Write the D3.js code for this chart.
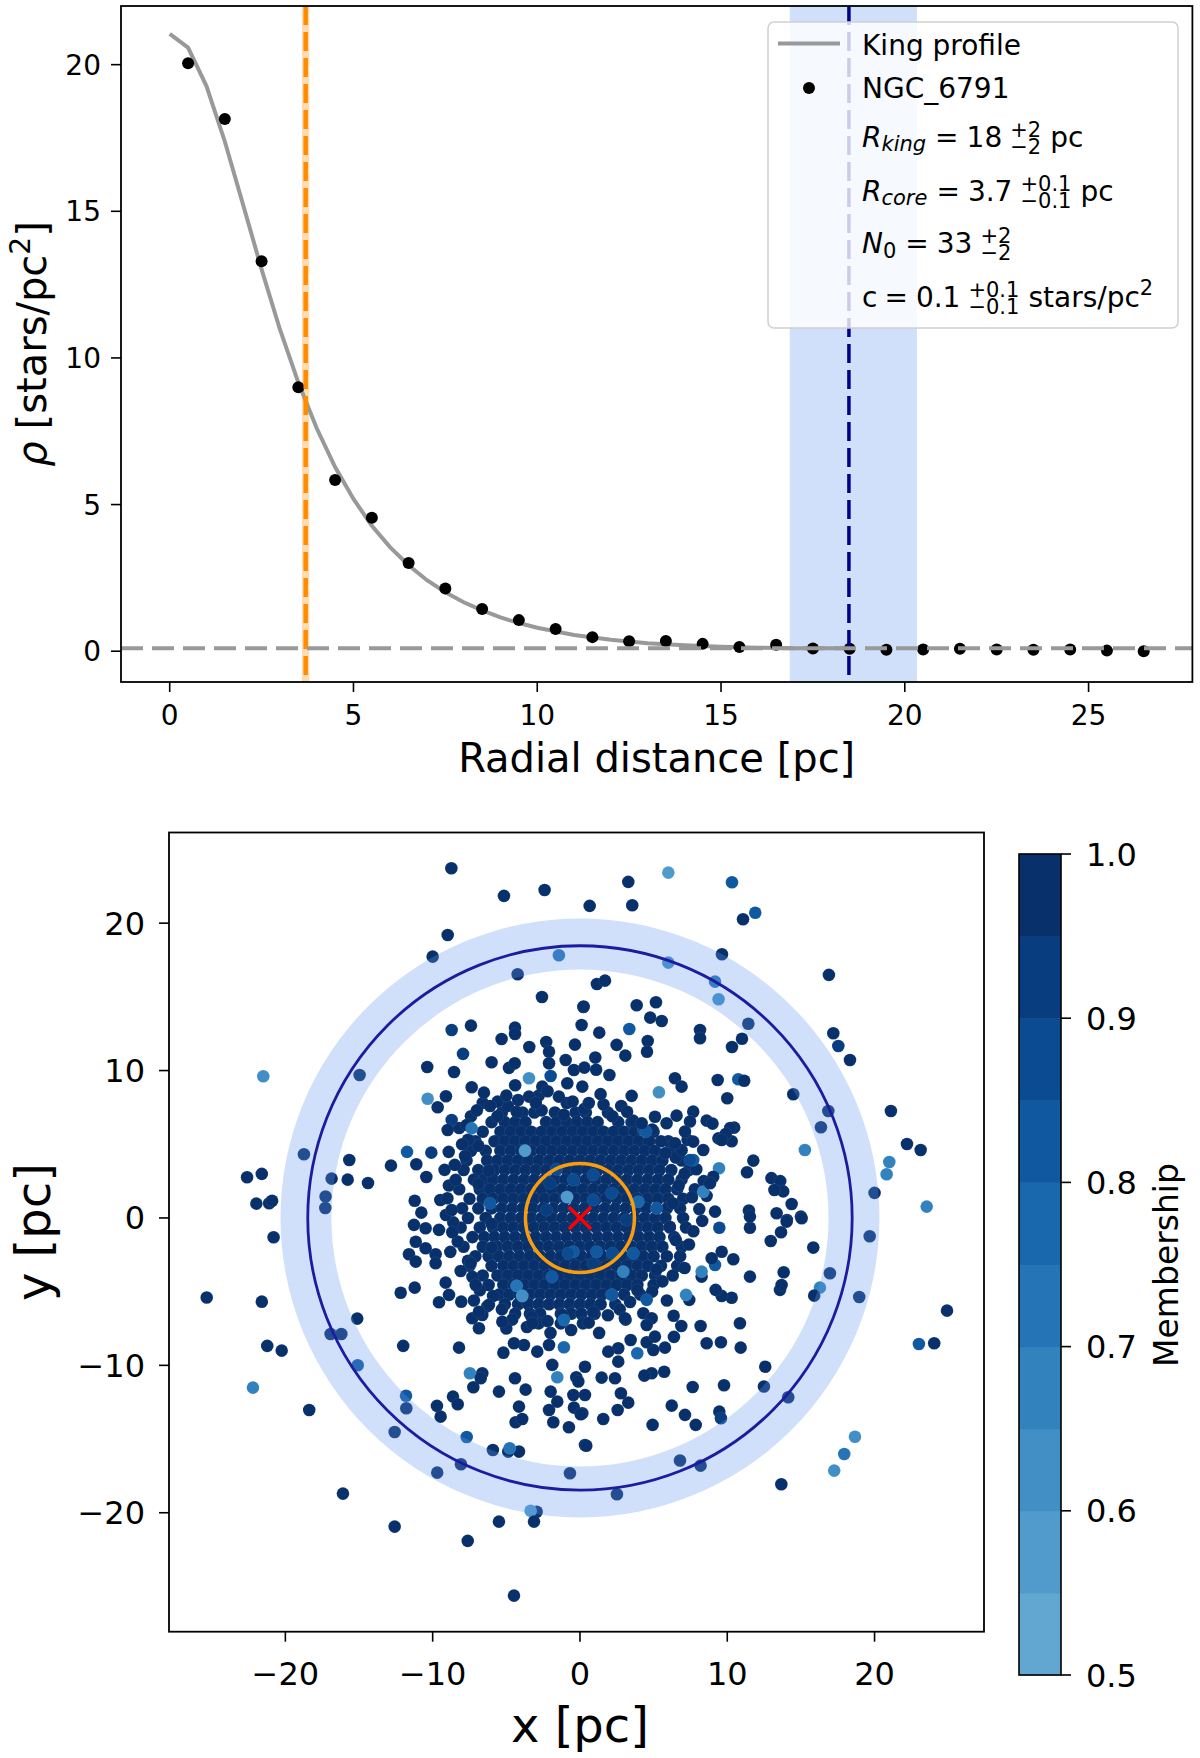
<!DOCTYPE html>
<html>
<head>
<meta charset="utf-8">
<script src="https://cdn.jsdelivr.net/npm/d3@7/dist/d3.min.js"></script>
<style>
html,body{margin:0;padding:0;background:#fff;}
svg text{font-family:"DejaVu Sans","Liberation Sans",sans-serif;fill:#000;}
</style>
</head>
<body>
<svg id="chart" width="1200" height="1758" viewBox="0 0 1200 1758"></svg>
<script>
// ================= DATA =================
// Radial density profile (top panel)
const radialBins = [0.5,1.5,2.5,3.5,4.5,5.5,6.5,7.5,8.5,9.5,10.5,11.5,12.5,13.5,14.5,15.5,16.5,17.5,18.5,19.5,20.5,21.5,22.5,23.5,24.5,25.5,26.5];
const densityValues = [20.05,18.15,13.3,9.0,5.84,4.55,3.01,2.14,1.44,1.06,0.76,0.48,0.34,0.35,0.25,0.14,0.22,0.09,0.08,0.05,0.06,0.08,0.06,0.05,0.06,0.02,0.0];
// King profile curve
const kingRadius  = [0,0.5,1,1.5,2,2.5,3,3.5,4,4.5,5,5.5,6,6.5,7,7.5,8,8.5,9,9.5,10,11,12,13,14,15,16,17,18,18.5];
const kingDensity = [21.05,20.58,19.27,17.38,15.21,13.02,10.97,9.16,7.60,6.28,5.19,4.28,3.54,2.93,2.42,2.01,1.67,1.39,1.15,0.96,0.80,0.55,0.39,0.27,0.20,0.15,0.12,0.10,0.10,0.10];
const rCore = 3.7, rCoreBand = [3.6, 3.8];
const rKing = 18.48, rKingBand = [16.87, 20.33];
const background = 0.1;
const topXTicks = [0,5,10,15,20,25];
const topYTicks = [0,5,10,15,20];
const bottomXTicks = [-20,-10,0,10,20];
const bottomYTicks = [-20,-10,0,10,20];
const colorbarTicks = [0.5,0.6,0.7,0.8,0.9,1.0];
const membershipLevels = [0.5,0.55,0.6,0.65,0.7,0.75,0.8,0.85,0.9,0.95,1.0];
const clusterName = "NGC_6791";

// Star positions (bottom panel): [x, y, membership]
const starsOuter = [
[-8.73,23.72,.98],[-5.16,21.85,.98],[-2.40,22.25,.98],[0.66,21.17,.98],[-8.98,19.2,.98],[-10.0,17.73,.98],[-1.43,17.82,.72],[-4.23,16.53,.98],[-2.58,14.99,.98],[0.23,14.31,.98],[-7.40,13.05,.98],[-8.71,12.75,.92],[-4.41,12.91,.98],[-4.41,12.48,.98],[-5.32,12.14,.98],[0.11,13.09,.98],[-2.29,11.94,.98],[-3.44,11.6,.98],[-0.34,11.76,.98],[-7.94,11.13,.92],[-10.37,10.24,.98],[-8.55,9.9,.98],[-6.0,10.56,.98],[-4.82,10.18,.98],[-4.43,10.49,.98],[-21.5,9.61,.6],[-14.96,9.70,.98],[-3.46,9.48,.6],[-1.99,9.63,.85],[-10.34,8.09,.6],[-9.10,8.26,.98],[-9.66,7.51,.98],[-7.35,8.87,.98],[-6.52,8.5,.98],[-5.59,7.89,.98],[-8.71,6.65,.92],[-8.98,5.97,.98],[-7.69,6.31,.98],[-7.35,6.08,.7],[-18.74,4.32,.98],[-15.66,3.93,.98],[-16.86,2.67,.98],[-15.77,2.6,.98],[-14.39,2.37,.98],[-22.6,2.76,.98],[-21.6,2.99,.98],[-21.97,0.97,.98],[-21.1,1.0,.98],[-20.9,1.17,.98],[-17.27,1.45,.98],[-17.29,0.68,.98],[-12.83,3.55,.98],[-11.74,4.48,.8],[-11.11,3.64,.98],[-10.09,4.43,.92],[-8.91,4.48,.98],[-10.43,2.78,.98],[-9.19,3.26,.98],[-11.22,1.17,.98],[-10.77,0.36,.98],[-9.48,1.22,.98],[-9.0,1.34,.98],[-8.71,0.54,.98],[-8.44,2.58,.98],
[-2.1,11.28,.98],[-2.1,10.49,.98],[-0.97,10.72,.98],[-0.86,9.14,.98],[0.16,8.91,.98],[-0.41,10.04,.98],[-2.56,8.91,.98],[-1.43,8.23,.98],[-3.46,8.23,.98],[-5.0,8.3,.98],[-4.2,8.0,.98],[-3.0,7.8,.98],[-2.2,8.6,.98],[-0.5,7.9,.98],[0.6,7.8,.98],[1.4,8.4,.98],[-4.4,9.0,.98],[-6.1,7.6,.98],
[6.0,23.43,.55],[3.28,22.8,.98],[10.32,22.77,.82],[3.55,21.21,.98],[11.9,20.71,.82],[11.07,20.26,.98],[9.64,17.89,.98],[6.0,17.32,.6],[9.17,16.03,.72],[9.41,14.84,.6],[1.15,15.87,.98],[1.7,16.1,.98],[16.9,16.49,.98],[0.25,14.34,.98],[3.85,14.43,.98],[5.16,14.63,.98],[4.77,13.59,.98],[5.55,13.36,.98],[3.35,12.82,.8],[1.31,12.57,.98],[8.15,12.75,.98],[8.15,12.19,.98],[11.43,13.18,.98],[11.0,12.16,.98],[10.32,11.6,.98],[4.6,12.0,.98],[4.55,11.28,.98],[2.49,11.74,.98],[3.08,11.01,.98],[17.2,12.53,.98],[17.54,11.67,.92],[18.33,10.72,.98],[1.04,10.88,.98],[0.3,10.2,.98],[1.1,10.05,.98],[2.0,9.7,.98],[6.45,9.48,.98],[6.9,8.91,.98],[9.35,9.36,.98],[10.75,9.41,.8],[11.15,9.31,.98],[5.36,8.53,.6],[10.0,8.12,.98],[14.48,8.39,.98],[3.51,8.28,.98],[7.69,7.21,.98],[6.56,6.94,.98],[16.86,7.26,.98],[21.11,7.26,.98],[16.36,6.15,.98],[15.27,4.61,.65],[22.2,5.02,.98],[23.13,4.61,.98],[21.0,3.8,.65],[20.82,2.96,.65],[20.0,1.7,.98],[23.54,0.77,.65],[11.77,3.89,.98],[11.34,3.1,.98],[13.0,2.7,.98],[13.6,2.5,.98],[13.8,1.8,.98],[13.2,1.9,.98],[14.37,0.95,.98],[15.0,0.09,.98],[14.05,-0.14,.98],[11.47,0.5,.98],[13.35,0.32,.98],[10.47,6.13,.98],[9.44,3.37,.65],[8.37,1.78,.65],[9.05,2.8,.98],[8.83,2.35,.98],[9.17,0.43,.98],[4.48,5.86,.8],[7.47,3.93,.85],[10.3,5.2,.98],[10.2,6.1,.98],[9.4,5.4,.98],[9.9,5.7,.98],[8.6,6.6,.98],[9.0,6.4,.98],
[5.88,6.42,.98],[7.47,6.54,.98],[7.13,5.86,.98],[6.45,5.07,.98],[7.69,5.18,.98],[8.37,4.61,.98],[9.62,5.29,.98],[5.09,6.87,.98],[4.19,6.42,.98],
[-20.8,-1.31,.98],[-25.34,-5.4,.98],[-21.6,-5.68,.98],[-15.12,-6.83,.98],[-16.93,-7.87,.98],[-16.2,-7.87,.98],[-21.23,-8.68,.98],[-20.25,-9.0,.98],[-15.09,-9.99,.8],[-22.2,-11.51,.65],[-18.38,-13.03,.98],[-12.0,-8.68,.98],[-8.21,-8.8,.98],[-11.81,-12.06,.8],[-11.79,-12.91,.98],[-12.58,-14.52,.98],[-9.71,-12.75,.98],[-9.46,-13.48,.98],[-8.62,-12.12,.98],[-8.3,-12.64,.98],[-7.69,-14.86,.8],[-9.69,-17.28,.98],[-8.08,-16.71,.98],[-5.91,-15.74,.98],[-4.87,-15.85,.98],[-4.14,-15.85,.98],[-4.77,-15.62,.7],[-0.68,-17.32,.98],[-2.94,-19.93,.98],[-3.35,-19.86,.55],[-3.12,-20.6,.98],[-5.5,-20.6,.98],[-7.62,-21.91,.98],[-12.58,-20.94,.98],[-16.09,-18.7,.98],[-4.48,-25.62,.98],[-7.47,-10.54,.65],[-6.63,-10.54,.98],[-6.74,-10.88,.98],[-7.24,-11.49,.98],[-5.5,-11.78,.98],[-4.41,-10.88,.98],[-3.69,-11.65,.98],[-4.14,-12.8,.98],[-4.37,-13.86,.98],[-3.92,-13.64,.98],[-1.54,-10.81,.65],[-1.99,-11.78,.98],[-2.1,-13.03,.98],[-1.54,-12.46,.98],[-1.81,-13.86,.98],[-0.75,-14.2,.98],[-0.45,-12.01,.98],[-0.25,-10.81,.98],[-0.41,-12.87,.98],[0.16,-13.25,.98],[0.34,-15.4,.98],[-5.2,-9.14,.98],[-2.9,-9.07,.98],[-3.8,-8.62,.98],[-4.48,-8.5,.98],[-2.1,-8.62,.98],[-1.09,-8.77,.75],[-1.09,-6.92,.75],[-1.88,-9.97,.98],[-6.86,-7.48,.98],[-7.31,-6.8,.98],[-6.63,-6.58,.98],[-5.27,-7.04,.98],[-3.28,-6.72,.98],[-3.24,-7.14,.98],[-12.17,-5.07,.98],[-11.22,-4.73,.98],[-9.12,-4.39,.98],[-9.57,-5.72,.98],[-8.89,-5.22,.98],[-8.06,-5.68,.98],[-4.3,-4.61,.7],[-3.92,-5.29,.6],[-11.27,-0.47,.98],[-10.48,-0.7,.98],[-9.57,-0.81,.98],[-8.67,-0.97,.98],[-11.61,-2.46,.98],[-11.15,-2.96,.98],[-9.8,-2.46,.98],[-9.8,-3.07,.98],[-11.15,-1.61,.98],[-10.48,-2.06,.98],[-7.42,-3.07,.98],[-7.08,-4.55,.98],[-6.86,-6.36,.98],[-6.18,-5.9,.98],
[19.67,-1.24,.98],[15.84,-2.01,.98],[16.97,-3.75,.98],[16.29,-4.73,.65],[15.9,-5.27,.98],[18.96,-5.36,.98],[24.92,-6.29,.98],[23.01,-8.55,.8],[24.05,-8.5,.98],[12.58,-10.09,.98],[12.49,-11.44,.98],[14.14,-12.16,.98],[18.67,-14.84,.6],[17.94,-16.01,.7],[17.26,-17.14,.6],[13.67,-18.07,.98],[6.79,-16.46,.98],[8.19,-16.8,.98],[2.51,-18.75,.98],[0.43,-15.45,.98],[4.93,-14.04,.98],[1.58,-13.64,.98],[7.86,-14.04,.98],[7.13,-13.36,.98],[6.23,-12.73,.98],[9.46,-13.14,.98],[9.57,-13.59,.92],[7.65,-11.47,.98],[9.78,-11.35,.98],[2.56,-13.03,.98],[3.28,-12.53,.98],[2.78,-11.89,.98],[2.6,-9.75,.98],[2.38,-10.88,.98],[1.47,-10.83,.98],[0.05,-13.32,.98],[5.72,-10.43,.98],[4.87,-10.54,.98],[4.37,-10.7,.98],[3.89,-9.18,.78],[5.77,-8.8,.98],[4.98,-8.96,.98],[4.53,-8.43,.98],[8.6,-8.5,.98],[9.57,-8.43,.98],[10.91,-8.8,.98],[8.19,-7.33,.98],[6.88,-7.33,.98],[6.38,-8.07,.98],[10.86,-7.14,.98],[3.44,-8.28,.98],[6.36,-6.63,.98],[7.42,-5.56,.98],[7.2,-5.22,.65],[10.3,-5.41,.98],[9.62,-5.29,.98],[9.21,-4.88,.98],[8.26,-3.98,.98],[8.26,-3.64,.65],[11.54,-3.98,.98],[13.58,-4.88,.98],[13.69,-4.55,.98],[13.83,-3.68,.98],[10.41,-2.8,.98],[9.17,-3.19,.8],[8.94,-2.73,.98],[9.62,-2.29,.98],[9.46,-0.66,.85],[11.54,-0.66,.98],[11.54,0.09,.98],[12.95,-1.56,.98],[13.65,-0.97,.98],[14.03,-0.25,.98],[15.05,-0.02,.98],[5.09,-8.05,.98],[3.05,-6.8,.98],[4.3,-6.47,.98],[4.87,-6.8,.98],[4.53,-7.26,.98],[2.6,-8.84,.98],[1.92,-9.07,.98],[0.34,-10.09,.98],[-0.11,-11.1,.98],[0.34,-12.01,.98]
];

// Dense core: rows of star positions estimated from the saturated blob (membership ~0.98)
const coreRowY = [7.15,6.5,5.85,5.2,4.55,3.9,3.25,2.6,1.95,1.3,0.65,0.0,-0.65,-1.3,-1.95,-2.6,-3.25,-3.9,-4.55,-5.2,-5.85,-6.5,-7.15];
const coreRowX = [
[-5.3,-3.9,-3.1,-1.7,-0.3,0.4,1.9],
[-6.0,-5.1,-4.4,-3.7,-2.3,-1.6,-0.9,-0.2,0.5,1.2,2.6,3.5],
[-6.6,-5.4,-4.7,-4.0,-3.3,-2.6,-1.9,-1.2,-0.5,0.2,0.9,1.6,2.3,3.0,3.7,5.0],
[-7.1,-5.8,-5.1,-4.4,-3.7,-3.0,-2.3,-1.6,-0.9,-0.2,0.5,1.2,1.9,2.6,3.3,4.0,4.7,6.0],
[-7.4,-6.4,-5.4,-4.7,-4.0,-3.3,-2.6,-1.9,-1.2,-0.5,0.2,0.9,1.6,2.3,3.0,3.7,4.4,5.1,6.3],
[-7.7,-6.3,-5.6,-4.9,-4.2,-3.5,-2.8,-2.1,-1.4,-0.7,0.0,0.7,1.4,2.1,2.8,3.5,4.2,4.9,5.6,6.9],
[-7.9,-6.9,-5.8,-5.1,-4.4,-3.7,-3.0,-2.3,-1.6,-0.9,-0.2,0.5,1.2,1.9,2.6,3.3,4.0,4.7,5.4,6.2,7.4],
[-7.2,-6.5,-5.9,-5.2,-4.5,-3.8,-3.1,-2.4,-1.7,-1.0,-0.3,0.4,1.1,1.8,2.5,3.2,3.9,4.6,5.3,6.0,6.9],
[-8.2,-6.8,-6.1,-5.4,-4.7,-4.0,-3.3,-2.6,-1.9,-1.2,-0.5,0.2,0.9,1.6,2.3,3.0,3.7,4.4,5.1,5.8,6.6,7.8],
[-7.5,-6.6,-5.9,-5.2,-4.5,-3.8,-3.1,-2.4,-1.7,-1.0,-0.3,0.4,1.1,1.8,2.5,3.2,3.9,4.6,5.3,6.0,7.0],
[-8.0,-6.9,-6.0,-5.3,-4.6,-3.9,-3.2,-2.5,-1.8,-1.1,-0.4,0.3,1.0,1.7,2.4,3.1,3.8,4.5,5.2,5.9,6.8],
[-7.6,-6.4,-5.4,-4.7,-4.0,-3.3,-2.6,-1.9,-1.2,-0.5,0.2,0.9,1.6,2.3,3.0,3.7,4.4,5.1,5.8,7.0],
[-8.1,-6.8,-5.9,-5.2,-4.5,-3.8,-3.1,-2.4,-1.7,-1.0,-0.3,0.4,1.1,1.8,2.5,3.2,3.9,4.6,5.3,6.1,7.2],
[-7.3,-6.5,-5.8,-5.1,-4.4,-3.7,-3.0,-2.3,-1.6,-0.9,-0.2,0.5,1.2,1.9,2.6,3.3,4.0,4.7,5.4,6.4],
[-7.9,-6.6,-5.6,-4.9,-4.2,-3.5,-2.8,-2.1,-1.4,-0.7,0.0,0.7,1.4,2.1,2.8,3.5,4.2,4.9,5.6,6.9],
[-7.1,-6.2,-5.5,-4.8,-4.1,-3.4,-2.7,-2.0,-1.3,-0.6,0.1,0.8,1.5,2.2,2.9,3.6,4.3,5.0,5.9],
[-7.5,-6.0,-5.2,-4.5,-3.8,-3.1,-2.4,-1.7,-1.0,-0.3,0.4,1.1,1.8,2.5,3.2,3.9,4.6,5.5,6.6],
[-6.6,-5.6,-4.9,-4.2,-3.5,-2.8,-2.1,-1.4,-0.7,0.0,0.7,1.4,2.1,2.8,3.5,4.2,5.1],
[-6.2,-5.2,-4.5,-3.8,-3.1,-2.4,-1.7,-1.0,-0.3,0.4,1.1,1.8,2.5,3.2,3.9,5.0],
[-5.5,-4.8,-4.1,-3.4,-2.7,-2.0,-1.3,-0.6,0.1,0.8,1.5,2.2,3.0,4.1],
[-5.1,-4.2,-3.5,-2.8,-2.1,-1.4,-0.7,0.0,0.7,1.4,2.4],
[-4.4,-3.4,-2.7,-1.3,-0.6,0.1,1.0],
[-2.8,-1.3,0.2]
];
const coreMembership = 0.98;
// Irregular fringe of the dense core
const starsFringe = [
[-7.8,4.2],[-8.5,3.6],[-6.9,4.9],[-7.6,5.3],[-8.9,2.2],[-8.6,-0.3],[-9.1,0.2],[-8.3,-1.6],[-8.8,-2.3],[-7.6,-2.9],[-8.1,-3.6],[-7.3,-4.0],[-6.8,-4.9],[-5.9,-5.3],[-6.3,-6.0],[-5.3,-6.2],[-4.6,-6.9],[-3.6,-7.4],[-2.2,-7.0],[-2.0,-7.8],[-0.6,-7.6],[0.6,-7.1],[1.3,-7.8],[1.9,-6.6],[2.7,-6.2],[3.4,-5.7],[3.9,-4.9],[4.9,-5.0],[5.6,-4.3],[6.3,-3.9],[5.2,-3.5],[6.8,-2.6],[7.4,-1.8],[7.7,-0.9],[8.1,0.6],[7.6,1.4],[8.4,2.5],[7.1,3.0],[7.9,3.3],[6.5,4.1],[6.9,4.6],[5.8,4.4],[5.5,5.2],[4.9,6.0],[3.6,6.6],[2.8,7.6],[1.6,7.7],[-0.9,7.8],[-2.8,8.3],[-4.9,7.6],[-6.6,7.8],[-7.4,6.9],[-8.2,6.1],[-8.0,5.0],[-6.2,3.2],[-6.9,2.3],[-6.0,-0.4],[-6.0,-2.0],[6.1,-0.6],[6.3,1.0],[6.5,-1.5],[6.7,2.2],
[-7.0,7.3],[-5.6,6.9],[-4.3,7.2],[-2.6,7.3],[-1.1,7.0],[0.3,7.4],[2.2,6.9],[3.2,7.2],[-7.2,-5.6],[-5.0,-7.5],[-1.2,-6.6],[0.9,-6.4],[3.1,-6.9],[5.9,-5.6],[7.1,-3.4],[8.3,-0.2],[8.6,1.5],[7.3,5.3]
];
// Lighter / mid-tone stars visible inside the core
const starsCoreTinted = [
[-3.73,4.57,.55],[-0.88,1.42,.55],[2.94,-3.64,.65],[7.69,3.93,.8],[3.96,1.1,.75],[5.2,0.66,.8],[0.9,1.22,.85],[-0.45,-2.29,.8],[2.2,-2.4,.85],[4.3,5.97,.85],[-6.11,1.0,.8],[3.62,-2.4,.8],[1.13,-2.29,.8],[-1.9,-4.0,.8],[2.15,-5.22,.8],[4.53,-5.56,.8],
[-0.45,2.58,.88],[0.9,2.92,.88],[-2.04,2.35,.9],[-0.79,-2.4,.88],[2.15,1.68,.88],[3.17,-0.14,.9],[-2.26,0.54,.9],[-1.6,3.3,.88],[0.9,-3.1,.9]
];

// ================= DRAWING =================
const svg = d3.select('#chart');
const bandColors = d3.range(10).map(i => d3.interpolateBlues(0.53 + 0.47 * i / 9));
const memColor = m => bandColors[Math.max(0, Math.min(9, Math.floor((m - 0.5) / 0.05 + 1e-9)))];

function mathLine(g, x, y, parts, base) {
  let cx = x;
  for (const p of parts) {
    cx += p.gap || 0;
    const size = p.s || base;
    if (p.stack) {
      const a = g.append('text').attr('x', cx).attr('y', y - 10).style('font-size', size + 'px').text(p.stack[0]);
      const b = g.append('text').attr('x', cx).attr('y', y + 7).style('font-size', size + 'px').text(p.stack[1]);
      cx += Math.max(a.node().getComputedTextLength(), b.node().getComputedTextLength());
    } else {
      const t = g.append('text').attr('x', cx).attr('y', y + (p.dy || 0))
        .style('font-size', size + 'px').style('font-style', p.it ? 'italic' : 'normal').text(p.t);
      cx += t.node().getComputedTextLength();
    }
  }
  return cx - x;
}
function rotatedLabel(cy, baseX, parts, size) {
  const outer = svg.append('g').attr('transform', `translate(${baseX},${cy}) rotate(-90)`);
  const inner = outer.append('g');
  const w = mathLine(inner, 0, 0, parts, size);
  inner.attr('transform', `translate(${-w / 2},0)`);
}

// ---------- TOP PANEL ----------
const T = {l: 121, r: 1192.4, t: 6, b: 682};
const xT = d3.scaleLinear().domain([-1.325, 27.825]).range([T.l, T.r]);
const yT = d3.scaleLinear().domain([-1.05, 22.0]).range([T.b, T.t]);
const defs = svg.append('defs');
defs.append('clipPath').attr('id', 'clipTop').append('rect').attr('x', T.l).attr('y', T.t).attr('width', T.r - T.l).attr('height', T.b - T.t);
const topG = svg.append('g').attr('clip-path', 'url(#clipTop)');

topG.append('rect').attr('x', xT(rCoreBand[0])).attr('width', xT(rCoreBand[1]) - xT(rCoreBand[0]))
  .attr('y', T.t).attr('height', T.b - T.t).attr('fill', '#ff8c00').attr('fill-opacity', 0.3);
topG.append('rect').attr('x', xT(rKingBand[0])).attr('width', xT(rKingBand[1]) - xT(rKingBand[0]))
  .attr('y', T.t).attr('height', T.b - T.t).attr('fill', 'cornflowerblue').attr('fill-opacity', 0.3);

const kingLine = d3.line().x((d, i) => xT(kingRadius[i])).y((d, i) => yT(kingDensity[i]));
topG.append('path').datum(kingRadius).attr('d', kingLine).attr('fill', 'none')
  .attr('stroke', '#999999').attr('stroke-width', 4);

topG.selectAll('circle.pt').data(radialBins).enter().append('circle')
  .attr('cx', d => xT(d)).attr('cy', (d, i) => yT(densityValues[i])).attr('r', 6).attr('fill', '#000');

topG.append('line').attr('x1', xT(rCore)).attr('x2', xT(rCore)).attr('y1', T.t).attr('y2', T.b)
  .attr('stroke', '#ff8c00').attr('stroke-width', 4.5).attr('stroke-dasharray', '19,7');
topG.append('line').attr('x1', xT(rKing)).attr('x2', xT(rKing)).attr('y1', T.t).attr('y2', T.b)
  .attr('stroke', '#00008b').attr('stroke-width', 3.5).attr('stroke-dasharray', '19,7');
topG.append('line').attr('x1', T.l).attr('x2', T.r).attr('y1', yT(background)).attr('y2', yT(background))
  .attr('stroke', '#999999').attr('stroke-width', 4).attr('stroke-dasharray', '22,9');

svg.append('rect').attr('x', T.l).attr('y', T.t).attr('width', T.r - T.l).attr('height', T.b - T.t)
  .attr('fill', 'none').attr('stroke', '#000').attr('stroke-width', 1.8);
const fmt = v => (v < 0 ? '\u2212' + Math.abs(v) : String(v));
topXTicks.forEach(v => {
  svg.append('line').attr('x1', xT(v)).attr('x2', xT(v)).attr('y1', T.b).attr('y2', T.b + 10).attr('stroke', '#000').attr('stroke-width', 1.6);
  svg.append('text').attr('x', xT(v)).attr('y', 725).attr('text-anchor', 'middle').style('font-size', '28px').text(fmt(v));
});
topYTicks.forEach(v => {
  svg.append('line').attr('x1', T.l - 10).attr('x2', T.l).attr('y1', yT(v)).attr('y2', yT(v)).attr('stroke', '#000').attr('stroke-width', 1.6);
  svg.append('text').attr('x', T.l - 20).attr('y', yT(v) + 10).attr('text-anchor', 'end').style('font-size', '28px').text(fmt(v));
});
svg.append('text').attr('x', (T.l + T.r) / 2).attr('y', 772).attr('text-anchor', 'middle').style('font-size', '40px').text('Radial distance [pc]');
rotatedLabel(344, 46, [{t: '\u03c1', it: 1}, {t: '[stars/pc', gap: 12}, {t: '2', s: 28, dy: -16}, {t: ']'}], 40);

// legend
const lg = svg.append('g');
lg.append('rect').attr('x', 768).attr('y', 22).attr('width', 410).attr('height', 306).attr('rx', 6)
  .attr('fill', '#fff').attr('fill-opacity', 0.8).attr('stroke', '#d0d0d0').attr('stroke-width', 1.5);
lg.append('line').attr('x1', 778).attr('x2', 840).attr('y1', 43.5).attr('y2', 43.5).attr('stroke', '#999999').attr('stroke-width', 4);
lg.append('circle').attr('cx', 809).attr('cy', 88).attr('r', 6).attr('fill', '#000');
lg.append('text').attr('x', 862).attr('y', 55).style('font-size', '28px').text('King profile');
lg.append('text').attr('x', 862).attr('y', 98).style('font-size', '28px').text(clusterName);
mathLine(lg, 862, 147, [{t: 'R', it: 1}, {t: 'king', it: 1, s: 21, dy: 4}, {t: '=', gap: 9}, {t: '18', gap: 8}, {stack: ['+2', '\u22122'], s: 21, gap: 8}, {t: 'pc', gap: 9}], 28);
mathLine(lg, 862, 201, [{t: 'R', it: 1}, {t: 'core', it: 1, s: 21, dy: 4}, {t: '=', gap: 9}, {t: '3.7', gap: 8}, {stack: ['+0.1', '\u22120.1'], s: 21, gap: 8}, {t: 'pc', gap: 9}], 28);
mathLine(lg, 862, 253, [{t: 'N', it: 1}, {t: '0', s: 21, dy: 5}, {t: '=', gap: 9}, {t: '33', gap: 8}, {stack: ['+2', '\u22122'], s: 21, gap: 8}], 28);
mathLine(lg, 862, 307, [{t: 'c'}, {t: '=', gap: 7}, {t: '0.1', gap: 8}, {stack: ['+0.1', '\u22120.1'], s: 21, gap: 8}, {t: 'stars/pc', gap: 9}, {t: '2', s: 21, dy: -12}], 28);

// ---------- BOTTOM PANEL ----------
const B = {l: 169, r: 984, t: 832.5, b: 1631.7};
const xB = d3.scaleLinear().domain([-27.9, 27.43]).range([B.l, B.r]);
const yB = d3.scaleLinear().domain([-28.07, 26.15]).range([B.b, B.t]);
const bot = svg.append('g');

const coreStars = [];
coreRowY.forEach((y, i) => coreRowX[i].forEach(x => coreStars.push([x, y, coreMembership])));
const fringeStars = starsFringe.map(d => [d[0], d[1], coreMembership]);
const allStars = coreStars.concat(fringeStars, starsCoreTinted, starsOuter);
bot.selectAll('circle.star').data(allStars).enter().append('circle')
  .attr('cx', d => xB(d[0])).attr('cy', d => yB(d[1])).attr('r', 6.3).attr('fill', d => memColor(d[2]))
  .attr('stroke', '#ffffff').attr('stroke-opacity', 0.1).attr('stroke-width', 0.7);

const cx0 = xB(0), cy0 = yB(0), pxPerUnit = xB(1) - xB(0);
bot.append('path').attr('transform', `translate(${cx0},${cy0})`)
  .attr('d', d3.arc()({innerRadius: rKingBand[0] * pxPerUnit, outerRadius: rKingBand[1] * pxPerUnit, startAngle: 0, endAngle: 2 * Math.PI}))
  .attr('fill', 'cornflowerblue').attr('fill-opacity', 0.3);
bot.append('circle').attr('cx', cx0).attr('cy', cy0).attr('r', xB(rKing) - cx0)
  .attr('fill', 'none').attr('stroke', '#1c1ca0').attr('stroke-width', 2.8);
bot.append('circle').attr('cx', cx0).attr('cy', cy0).attr('r', xB(rCore) - cx0)
  .attr('fill', 'none').attr('stroke', '#fa9c0c').attr('stroke-width', 3.5);
[[-1, -1, 1, 1], [-1, 1, 1, -1]].forEach(s => {
  bot.append('line').attr('x1', cx0 + 11 * s[0]).attr('y1', cy0 + 11 * s[1]).attr('x2', cx0 + 11 * s[2]).attr('y2', cy0 + 11 * s[3])
    .attr('stroke', 'red').attr('stroke-width', 3.5);
});

svg.append('rect').attr('x', B.l).attr('y', B.t).attr('width', B.r - B.l).attr('height', B.b - B.t)
  .attr('fill', 'none').attr('stroke', '#000').attr('stroke-width', 1.8);
bottomXTicks.forEach(v => {
  svg.append('line').attr('x1', xB(v)).attr('x2', xB(v)).attr('y1', B.b).attr('y2', B.b + 10).attr('stroke', '#000').attr('stroke-width', 1.6);
  svg.append('text').attr('x', xB(v)).attr('y', 1685).attr('text-anchor', 'middle').style('font-size', '32px').text(fmt(v));
});
bottomYTicks.forEach(v => {
  svg.append('line').attr('x1', B.l - 10).attr('x2', B.l).attr('y1', yB(v)).attr('y2', yB(v)).attr('stroke', '#000').attr('stroke-width', 1.6);
  svg.append('text').attr('x', B.l - 24).attr('y', yB(v) + 11.5).attr('text-anchor', 'end').style('font-size', '32px').text(fmt(v));
});
svg.append('text').attr('x', xB(0)).attr('y', 1742).attr('text-anchor', 'middle').style('font-size', '48px').text('x [pc]');
rotatedLabel((B.t + B.b) / 2, 50, [{t: 'y [pc]'}], 48);

// ---------- COLORBAR ----------
const CB = {l: 1019, r: 1061};
const yC = d3.scaleLinear().domain([0.5, 1.0]).range([1675, 854]);
membershipLevels.slice(0, -1).forEach((v, i) => {
  svg.append('rect').attr('x', CB.l).attr('width', CB.r - CB.l)
    .attr('y', yC(membershipLevels[i + 1])).attr('height', yC(v) - yC(membershipLevels[i + 1]) + 0.5)
    .attr('fill', bandColors[i]);
});
svg.append('rect').attr('x', CB.l).attr('y', yC(1)).attr('width', CB.r - CB.l).attr('height', yC(0.5) - yC(1))
  .attr('fill', 'none').attr('stroke', '#000').attr('stroke-width', 1.6);
colorbarTicks.forEach(v => {
  svg.append('line').attr('x1', CB.r).attr('x2', CB.r + 10).attr('y1', yC(v)).attr('y2', yC(v)).attr('stroke', '#000').attr('stroke-width', 1.6);
  svg.append('text').attr('x', CB.r + 25).attr('y', yC(v) + 11.5).style('font-size', '32px').text(v.toFixed(1));
});
svg.append('text').attr('transform', 'translate(1178,1265) rotate(-90)').attr('text-anchor', 'middle').style('font-size', '33px').text('Membership');
</script>
</body>
</html>
